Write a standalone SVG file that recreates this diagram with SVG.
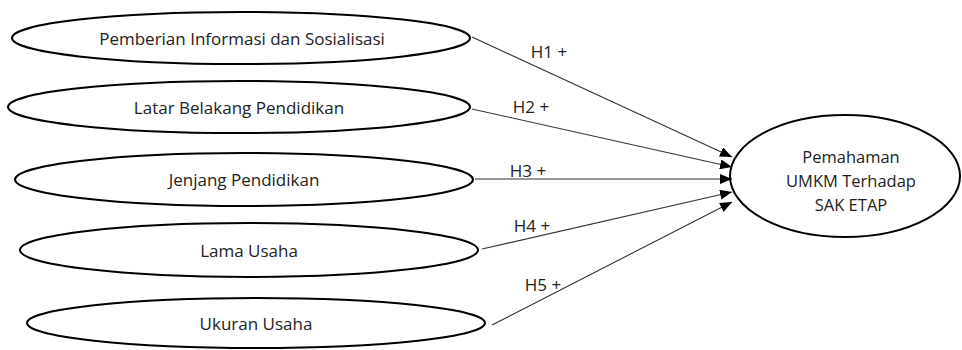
<svg xmlns="http://www.w3.org/2000/svg" width="962" height="350" viewBox="0 0 962 350">
<style>
.node ellipse{fill:#fff;stroke:#000;stroke-width:2}
.lbl{font-family:"Open Sans","Liberation Sans",sans-serif;font-size:17px;fill:#222;text-anchor:middle}
.tl{font-size:16.5px}
.edge{stroke:#333;stroke-width:1.1;fill:none;marker-end:url(#ah)}
</style>
<defs>
<marker id="ah" markerWidth="12" markerHeight="10" refX="12" refY="5" orient="auto" markerUnits="userSpaceOnUse">
<path d="M0,0 L12,5 L0,10 z" fill="#000"/>
</marker>
</defs>
<rect width="962" height="350" fill="#fff"/>
<g id="n1" class="node"><ellipse cx="241" cy="38" rx="229" ry="26"/><text class="lbl" x="242" y="45">Pemberian Informasi dan Sosialisasi</text></g>
<g id="n2" class="node"><ellipse cx="239" cy="107" rx="231" ry="26"/><text class="lbl" x="239" y="114">Latar Belakang Pendidikan</text></g>
<g id="n3" class="node"><ellipse cx="244" cy="179.5" rx="229" ry="26.5"/><text class="lbl" x="244" y="186">Jenjang Pendidikan</text></g>
<g id="n4" class="node"><ellipse cx="249" cy="250" rx="229" ry="27"/><text class="lbl" x="249" y="257">Lama Usaha</text></g>
<g id="n5" class="node"><ellipse cx="256" cy="323" rx="229" ry="25"/><text class="lbl" x="256" y="330">Ukuran Usaha</text></g>
<g id="target" class="node"><ellipse cx="845" cy="176" rx="115" ry="61"/>
<text class="lbl tl" x="851" y="163">Pemahaman</text>
<text class="lbl tl" x="851" y="187">UMKM Terhadap</text>
<text class="lbl tl" x="851" y="211">SAK ETAP</text></g>
<g id="edges">
<line class="edge" x1="472" y1="37" x2="732" y2="157"/>
<line class="edge" x1="472" y1="109" x2="732" y2="167"/>
<line class="edge" x1="475" y1="179" x2="732" y2="179"/>
<line class="edge" x1="482" y1="249" x2="732" y2="192"/>
<line class="edge" x1="492" y1="325" x2="732" y2="202"/>
<text class="lbl" x="549" y="58">H1 +</text>
<text class="lbl" x="531" y="113">H2 +</text>
<text class="lbl" x="528" y="177">H3 +</text>
<text class="lbl" x="532" y="232">H4 +</text>
<text class="lbl" x="543" y="291">H5 +</text>
</g>
</svg>
